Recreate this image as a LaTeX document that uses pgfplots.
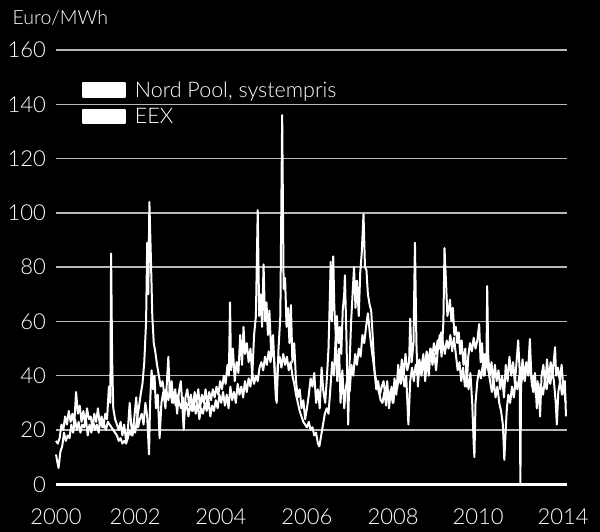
\documentclass[border=0pt]{standalone}
\usepackage{pgfplots}
\pgfplotsset{compat=1.18}
\usepackage{fontspec}
\setmainfont{Lato Light}
\definecolor{gridgray}{gray}{0.72}
\begin{document}
\begin{tikzpicture}[x=1pt,y=1pt]
\path[use as bounding box, fill=black] (0,0) rectangle (600,532);
\node[anchor=base west, text=white, inner sep=0pt, font=\fontsize{19.5}{21}\selectfont] at (12.5,507) {Euro/MWh};
\begin{axis}[
  at={(56pt,47.7pt)}, anchor=south west,
  scale only axis, width=510.7pt, height=434.3pt,
  xmin=2000, xmax=2014, ymin=0, ymax=160,
  axis line style={draw=none},
  tick style={draw=none},
  major tick length=0pt,
  ytick={20,40,...,160},
  extra y ticks={0},
  extra y tick style={grid style={white, line width=2.6pt}},
  ymajorgrids,
  grid style={gridgray, line width=1.3pt},
  xtick={2000,2002.17,2004.52,2006.88,2009.24,2011.57,2013.90},
  xticklabels={2000,2002,2004,2006,2008,2010,2014},
  /pgf/number format/assume math mode=true,
  ticklabel style={text=white, font=\fontsize{22}{24}\selectfont},
  yticklabel style={anchor=east, inner sep=0pt, xshift=-10pt},
  xticklabel style={anchor=north, inner sep=0pt, yshift=-24pt},
  clip=false,
  legend style={at={(0.0503,0.928)}, anchor=north west, draw=none, fill=none,
    text=white, font=\fontsize{21.5}{23}\selectfont, inner sep=0pt,
    column sep=9pt, row sep=9.5pt,
    nodes={inner sep=0pt, anchor=west}},
  legend cell align=left,
  legend image code/.code={\fill[white] (0pt,-6.6pt) rectangle (42pt,6.6pt);},
]
\addplot[white, line width=2pt, line join=round, no markers] coordinates {
(2000.00,11)(2000.04,8)(2000.07,6)(2000.12,12)(2000.17,14)(2000.22,19)(2000.27,16)(2000.32,18)(2000.37,17)(2000.42,22)(2000.47,19)(2000.52,24)(2000.57,20)(2000.62,23)(2000.67,19)(2000.72,22)(2000.77,21)(2000.82,24)(2000.87,18)(2000.92,22)(2000.97,19)(2001.02,23)(2001.07,20)(2001.12,22)(2001.17,19)(2001.22,24)(2001.27,21)(2001.32,22)(2001.37,20)(2001.42,23)(2001.47,22)(2001.52,21)(2001.57,20)(2001.62,19)(2001.67,18)(2001.72,16)(2001.77,17)(2001.82,15)(2001.87,16)(2001.92,15)(2001.97,17)(2002.02,20)(2002.07,18)(2002.12,22)(2002.17,19)(2002.22,24)(2002.27,28)(2002.32,33)(2002.37,37)(2002.42,45)(2002.47,60)(2002.50,89)(2002.53,70)(2002.56,104)(2002.60,84)(2002.64,62)(2002.68,52)(2002.72,49)(2002.77,44)(2002.82,40)(2002.87,36)(2002.92,38)(2002.97,33)(2003.02,35)(2003.08,31)(2003.13,36)(2003.18,30)(2003.23,34)(2003.28,29)(2003.33,33)(2003.38,30)(2003.43,28)(2003.48,32)(2003.53,27)(2003.58,30)(2003.63,25)(2003.68,29)(2003.73,27)(2003.78,31)(2003.83,26)(2003.88,30)(2003.93,24)(2003.98,28)(2004.03,26)(2004.08,30)(2004.13,27)(2004.18,31)(2004.23,25)(2004.28,29)(2004.33,27)(2004.38,31)(2004.43,28)(2004.48,33)(2004.53,30)(2004.58,34)(2004.63,29)(2004.68,33)(2004.73,28)(2004.78,36)(2004.83,31)(2004.88,34)(2004.93,30)(2004.98,37)(2005.03,33)(2005.08,36)(2005.13,32)(2005.18,38)(2005.23,34)(2005.28,39)(2005.33,36)(2005.38,41)(2005.43,37)(2005.48,40)(2005.53,38)(2005.58,43)(2005.63,45)(2005.68,42)(2005.73,47)(2005.78,44)(2005.83,49)(2005.88,45)(2005.93,50)(2005.98,46)(2006.03,31)(2006.08,44)(2006.13,47)(2006.18,43)(2006.23,48)(2006.28,44)(2006.33,47)(2006.38,42)(2006.43,45)(2006.48,40)(2006.53,37)(2006.58,33)(2006.63,30)(2006.68,27)(2006.73,25)(2006.78,23)(2006.83,22)(2006.88,21)(2006.93,23)(2006.98,20)(2007.03,21)(2007.08,18)(2007.13,19)(2007.18,15)(2007.22,14)(2007.27,18)(2007.32,22)(2007.37,26)(2007.42,28)(2007.47,26)(2007.52,35)(2007.57,45)(2007.62,40)(2007.67,55)(2007.71,38)(2007.76,50)(2007.80,30)(2007.85,42)(2007.90,28)(2007.95,36)(2008.00,40)(2008.05,34)(2008.10,44)(2008.15,40)(2008.20,48)(2008.25,44)(2008.30,50)(2008.35,47)(2008.40,55)(2008.45,52)(2008.50,58)(2008.55,63)(2008.60,56)(2008.65,50)(2008.70,45)(2008.75,40)(2008.80,37)(2008.85,34)(2008.90,31)(2008.95,30)(2009.00,34)(2009.05,29)(2009.10,35)(2009.15,31)(2009.20,36)(2009.25,30)(2009.30,38)(2009.35,35)(2009.40,40)(2009.45,37)(2009.50,42)(2009.55,36)(2009.60,40)(2009.66,22)(2009.71,38)(2009.76,43)(2009.81,38)(2009.86,44)(2009.91,40)(2009.96,46)(2010.01,42)(2010.06,47)(2010.11,43)(2010.16,49)(2010.21,45)(2010.26,50)(2010.31,46)(2010.36,52)(2010.41,48)(2010.46,53)(2010.51,50)(2010.56,56)(2010.61,52)(2010.66,48)(2010.71,53)(2010.76,50)(2010.81,55)(2010.86,49)(2010.91,54)(2010.96,48)(2011.01,42)(2011.06,45)(2011.11,38)(2011.16,43)(2011.21,36)(2011.26,40)(2011.31,35)(2011.36,41)(2011.41,30)(2011.45,15)(2011.47,10)(2011.50,30)(2011.55,38)(2011.60,42)(2011.65,39)(2011.70,44)(2011.75,40)(2011.80,46)(2011.85,42)(2011.90,38)(2011.95,34)(2012.00,38)(2012.05,32)(2012.10,36)(2012.15,30)(2012.20,27)(2012.25,22)(2012.29,9)(2012.32,18)(2012.36,28)(2012.40,33)(2012.45,30)(2012.50,36)(2012.55,32)(2012.60,38)(2012.65,35)(2012.70,40)(2012.75,37)(2012.80,41)(2012.85,38)(2012.90,44)(2012.95,40)(2013.00,45)(2013.05,36)(2013.10,40)(2013.15,33)(2013.20,38)(2013.25,30)(2013.30,36)(2013.35,33)(2013.40,38)(2013.45,35)(2013.50,40)(2013.55,37)(2013.60,42)(2013.65,38)(2013.70,30)(2013.73,22)(2013.77,34)(2013.82,38)(2013.87,33)(2013.92,36)(2013.97,30)
};
\addlegendentry{Nord Pool, systempris}
\addplot[white, line width=2pt, line join=round, no markers] coordinates {
(2000.00,16)(2000.05,15)(2000.10,17)(2000.15,22)(2000.20,20)(2000.25,25)(2000.30,22)(2000.35,27)(2000.40,23)(2000.45,26)(2000.50,22)(2000.55,34)(2000.60,26)(2000.65,29)(2000.70,23)(2000.75,27)(2000.80,22)(2000.85,28)(2000.90,24)(2000.95,25)(2001.00,21)(2001.05,26)(2001.10,23)(2001.15,28)(2001.20,22)(2001.25,25)(2001.30,21)(2001.35,26)(2001.40,24)(2001.45,36)(2001.49,30)(2001.51,85)(2001.54,45)(2001.57,28)(2001.62,24)(2001.67,22)(2001.72,20)(2001.77,23)(2001.82,18)(2001.87,22)(2001.92,16)(2001.97,20)(2002.02,30)(2002.06,22)(2002.10,18)(2002.15,25)(2002.20,32)(2002.25,21)(2002.30,24)(2002.35,26)(2002.40,22)(2002.45,30)(2002.50,25)(2002.55,11)(2002.58,30)(2002.62,42)(2002.66,35)(2002.70,40)(2002.74,28)(2002.79,33)(2002.84,17)(2002.89,30)(2002.94,34)(2003.00,28)(2003.05,40)(2003.08,47)(2003.12,32)(2003.17,38)(2003.22,30)(2003.27,35)(2003.32,26)(2003.37,34)(2003.42,38)(2003.46,30)(2003.50,20)(2003.55,32)(2003.60,35)(2003.65,29)(2003.70,33)(2003.75,27)(2003.80,34)(2003.85,30)(2003.90,35)(2003.95,28)(2004.00,33)(2004.05,30)(2004.10,35)(2004.15,29)(2004.20,34)(2004.25,31)(2004.30,35)(2004.35,32)(2004.40,36)(2004.45,33)(2004.50,38)(2004.55,35)(2004.60,40)(2004.65,37)(2004.70,44)(2004.74,40)(2004.77,67)(2004.80,42)(2004.85,50)(2004.90,38)(2004.95,45)(2005.00,41)(2005.05,55)(2005.10,44)(2005.14,58)(2005.18,48)(2005.23,52)(2005.28,45)(2005.33,50)(2005.38,40)(2005.43,55)(2005.48,62)(2005.53,101)(2005.57,62)(2005.61,70)(2005.65,58)(2005.69,81)(2005.73,60)(2005.77,67)(2005.81,55)(2005.85,64)(2005.90,48)(2005.95,55)(2006.00,40)(2006.05,30)(2006.10,50)(2006.15,62)(2006.20,136)(2006.24,72)(2006.28,76)(2006.32,58)(2006.36,65)(2006.40,52)(2006.44,66)(2006.48,45)(2006.53,52)(2006.58,38)(2006.63,32)(2006.68,35)(2006.73,28)(2006.78,31)(2006.83,24)(2006.88,28)(2006.93,33)(2006.98,39)(2007.03,36)(2007.08,41)(2007.13,30)(2007.18,35)(2007.23,28)(2007.28,43)(2007.33,34)(2007.38,30)(2007.42,38)(2007.47,50)(2007.50,65)(2007.53,82)(2007.56,60)(2007.60,84)(2007.63,65)(2007.67,55)(2007.70,62)(2007.74,52)(2007.78,58)(2007.82,48)(2007.86,64)(2007.90,70)(2007.92,77)(2007.96,55)(2008.01,22)(2008.05,45)(2008.09,60)(2008.13,70)(2008.17,80)(2008.21,65)(2008.25,75)(2008.30,62)(2008.34,78)(2008.38,85)(2008.43,99.5)(2008.47,80)(2008.51,79)(2008.55,70)(2008.60,66)(2008.64,64)(2008.68,55)(2008.73,42)(2008.78,35)(2008.83,38)(2008.88,33)(2008.93,36)(2008.98,38)(2009.03,32)(2009.08,38)(2009.13,28)(2009.18,35)(2009.23,30)(2009.28,39)(2009.33,33)(2009.38,44)(2009.43,38)(2009.48,46)(2009.53,40)(2009.58,48)(2009.63,42)(2009.68,45)(2009.71,61)(2009.75,45)(2009.80,52)(2009.84,89)(2009.88,52)(2009.92,36)(2009.97,45)(2010.02,40)(2010.07,48)(2010.12,38)(2010.17,46)(2010.22,40)(2010.27,50)(2010.32,44)(2010.37,48)(2010.42,42)(2010.47,50)(2010.52,55)(2010.57,47)(2010.62,60)(2010.65,87)(2010.69,75)(2010.73,62)(2010.77,65)(2010.80,68)(2010.84,60)(2010.88,65)(2010.92,55)(2010.96,58)(2011.00,52)(2011.04,56)(2011.08,48)(2011.12,53)(2011.17,44)(2011.22,50)(2011.26,36)(2011.30,47)(2011.35,52)(2011.40,49)(2011.45,54)(2011.50,50)(2011.55,53)(2011.60,59)(2011.64,45)(2011.68,52)(2011.72,40)(2011.76,48)(2011.80,44)(2011.82,73)(2011.85,47)(2011.89,40)(2011.94,45)(2011.98,36)(2012.03,44)(2012.08,38)(2012.13,42)(2012.18,35)(2012.23,40)(2012.28,32)(2012.33,44)(2012.38,38)(2012.43,47)(2012.48,40)(2012.53,45)(2012.58,37)(2012.63,46)(2012.67,53)(2012.71,42)(2012.73,0)(2012.75,40)(2012.79,46)(2012.84,39)(2012.89,45)(2012.94,41)(2012.99,53.5)(2013.03,40)(2013.08,34)(2013.13,41)(2013.18,28)(2013.23,37)(2013.27,25)(2013.31,40)(2013.36,44)(2013.41,36)(2013.46,46)(2013.51,38)(2013.56,45)(2013.61,40)(2013.68,50.5)(2013.71,40)(2013.76,43)(2013.81,38)(2013.86,44)(2013.91,35)(2013.95,38)(2013.98,25)
};
\addlegendentry{EEX}
\end{axis}
\end{tikzpicture}
\end{document}
